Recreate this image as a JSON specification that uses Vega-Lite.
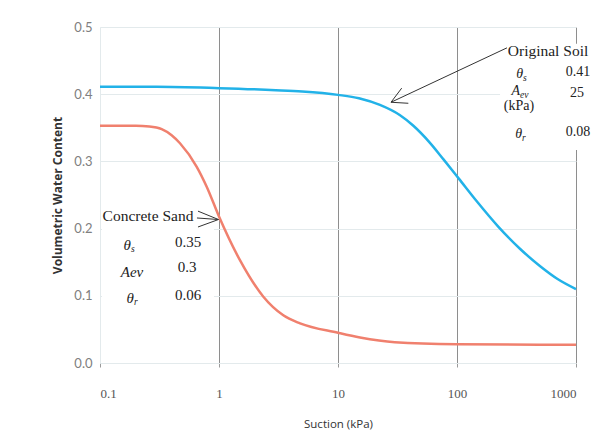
{
  "$schema": "https://vega.github.io/schema/vega-lite/v6.json",
  "width": 476,
  "height": 336,
  "autosize": {"type": "none"},
  "padding": {"left": 100, "top": 27, "right": 32, "bottom": 84},
  "background": "white",
  "config": {"view": {"stroke": null}},
  "datasets": {
    "curves": [
      {"soil": "Original Soil", "x": 0.1, "y": 0.411},
      {"soil": "Original Soil", "x": 0.3, "y": 0.411},
      {"soil": "Original Soil", "x": 1, "y": 0.409},
      {"soil": "Original Soil", "x": 3, "y": 0.406},
      {"soil": "Original Soil", "x": 5, "y": 0.404},
      {"soil": "Original Soil", "x": 10, "y": 0.399},
      {"soil": "Original Soil", "x": 15, "y": 0.394},
      {"soil": "Original Soil", "x": 22.5, "y": 0.384},
      {"soil": "Original Soil", "x": 33, "y": 0.369},
      {"soil": "Original Soil", "x": 43, "y": 0.353},
      {"soil": "Original Soil", "x": 59, "y": 0.328},
      {"soil": "Original Soil", "x": 77, "y": 0.303},
      {"soil": "Original Soil", "x": 104, "y": 0.274},
      {"soil": "Original Soil", "x": 146, "y": 0.241},
      {"soil": "Original Soil", "x": 222, "y": 0.203},
      {"soil": "Original Soil", "x": 338, "y": 0.17},
      {"soil": "Original Soil", "x": 500, "y": 0.144},
      {"soil": "Original Soil", "x": 700, "y": 0.125},
      {"soil": "Original Soil", "x": 1000, "y": 0.11},
      {"soil": "Concrete Sand", "x": 0.1, "y": 0.353},
      {"soil": "Concrete Sand", "x": 0.2, "y": 0.353},
      {"soil": "Concrete Sand", "x": 0.26, "y": 0.352},
      {"soil": "Concrete Sand", "x": 0.33, "y": 0.348},
      {"soil": "Concrete Sand", "x": 0.4, "y": 0.339},
      {"soil": "Concrete Sand", "x": 0.47, "y": 0.327},
      {"soil": "Concrete Sand", "x": 0.65, "y": 0.292},
      {"soil": "Concrete Sand", "x": 0.79, "y": 0.262},
      {"soil": "Concrete Sand", "x": 1.0, "y": 0.218},
      {"soil": "Concrete Sand", "x": 1.5, "y": 0.153},
      {"soil": "Concrete Sand", "x": 2.35, "y": 0.099},
      {"soil": "Concrete Sand", "x": 3.47, "y": 0.071},
      {"soil": "Concrete Sand", "x": 4.8, "y": 0.059},
      {"soil": "Concrete Sand", "x": 10, "y": 0.045},
      {"soil": "Concrete Sand", "x": 15.3, "y": 0.038},
      {"soil": "Concrete Sand", "x": 30, "y": 0.031},
      {"soil": "Concrete Sand", "x": 100, "y": 0.028},
      {"soil": "Concrete Sand", "x": 1000, "y": 0.027}
    ],
    "boxes": [
      {"x": 230, "x2": 1592, "y": 0.317, "y2": 0.475},
      {"x": 0.104, "x2": 0.908, "y": 0.086, "y2": 0.235}
    ],
    "arrows": [
      {"x": 263, "y": 0.469, "x2": 27.9, "y2": 0.388},
      {"x": 27.9, "y": 0.388, "x2": 34.3, "y2": 0.409},
      {"x": 27.9, "y": 0.388, "x2": 39.0, "y2": 0.3865},
      {"x": 0.653, "y": 0.2158, "x2": 0.99, "y2": 0.2135},
      {"x": 0.99, "y": 0.2135, "x2": 0.666, "y2": 0.226},
      {"x": 0.99, "y": 0.2135, "x2": 0.666, "y2": 0.2024}
    ],
    "names": [
      {"label": "Original Soil", "x": 582, "y": 0.464},
      {"label": "Concrete Sand", "x": 0.253, "y": 0.219}
    ],
    "values": [
      {"group": "Original Soil", "label": "0.41", "x": 1040, "y": 0.433},
      {"group": "Original Soil", "label": "25", "x": 1019, "y": 0.402},
      {"group": "Original Soil", "label": "(kPa)", "x": 332, "y": 0.382},
      {"group": "Original Soil", "label": "0.08", "x": 1040, "y": 0.344},
      {"group": "Concrete Sand", "label": "0.35", "x": 0.549, "y": 0.18},
      {"group": "Concrete Sand", "label": "0.3", "x": 0.539, "y": 0.143},
      {"group": "Concrete Sand", "label": "0.06", "x": 0.549, "y": 0.101}
    ],
    "symbols": [
      {"group": "Original Soil", "sym": "θ", "sub": "s", "x": 359, "y": 0.43},
      {"group": "Original Soil", "sym": "A", "sub": "ev", "x": 338, "y": 0.405},
      {"group": "Original Soil", "sym": "θ", "sub": "r", "x": 352, "y": 0.341},
      {"group": "Concrete Sand", "sym": "θ", "sub": "s", "x": 0.182, "y": 0.176},
      {"group": "Concrete Sand", "sym": "Aev", "sub": "", "x": 0.231, "y": 0.135},
      {"group": "Concrete Sand", "sym": "θ", "sub": "r", "x": 0.193, "y": 0.097}
    ]
  },
  "encoding": {
    "x": {
      "field": "x",
      "type": "quantitative",
      "scale": {"type": "log", "domain": [0.1, 1000], "nice": false},
      "axis": {
        "title": "Suction (kPa)",
        "values": [0.1, 1, 10, 100, 1000],
        "format": "~g",
        "grid": true,
        "gridColor": {"condition": {"test": "datum.value < 0.5", "value": "#e3eaec"}, "value": "#8e8e8e"},
        "gridWidth": 1,
        "domainColor": "#e3eaec",
        "tickColor": "#9a9a9a",
        "tickSize": 4,
        "labelFont": "Liberation Serif",
        "labelFontSize": 13,
        "labelColor": "#555555",
        "labelPadding": 20,
        "titleFont": "Open Sans",
        "titleFontSize": 11.5,
        "titleFontWeight": "normal",
        "titleColor": "#333333",
        "titlePadding": 18
      }
    },
    "y": {
      "field": "y",
      "type": "quantitative",
      "scale": {"domain": [0, 0.5], "nice": false, "zero": false},
      "axis": {
        "title": "Volumetric Water Content",
        "values": [0, 0.1, 0.2, 0.3, 0.4, 0.5],
        "format": ".1f",
        "grid": true,
        "gridColor": "#e3eaec",
        "domainColor": "#e3eaec",
        "ticks": false,
        "labelFont": "Lato",
        "labelFontSize": 13,
        "labelColor": "#808080",
        "labelPadding": 8,
        "titleFont": "Open Sans",
        "titleFontSize": 12,
        "titleFontWeight": "bold",
        "titleColor": "#333333",
        "titlePadding": 9
      }
    }
  },
  "layer": [
    {
      "data": {"name": "boxes"},
      "mark": {"type": "rect", "fill": "white", "clip": false},
      "encoding": {"x2": {"field": "x2"}, "y2": {"field": "y2"}}
    },
    {
      "data": {"name": "curves"},
      "mark": {"type": "line", "strokeWidth": 2.5, "interpolate": "monotone"},
      "encoding": {
        "color": {
          "field": "soil",
          "type": "nominal",
          "scale": {"domain": ["Original Soil", "Concrete Sand"], "range": ["#22b2e8", "#f0806e"]},
          "legend": null
        }
      }
    },
    {
      "data": {"name": "arrows"},
      "mark": {"type": "rule", "color": "#333333", "strokeWidth": 1, "clip": false},
      "encoding": {"x2": {"field": "x2"}, "y2": {"field": "y2"}}
    },
    {
      "data": {"name": "names"},
      "mark": {"type": "text", "font": "Liberation Serif", "fontSize": 15.5, "color": "#222222", "align": "center", "baseline": "middle"},
      "encoding": {"text": {"field": "label"}}
    },
    {
      "data": {"name": "values"},
      "mark": {"type": "text", "font": "Liberation Serif", "color": "#222222", "align": "center", "baseline": "middle"},
      "encoding": {
        "text": {"field": "label"},
        "size": {"field": "group", "type": "nominal", "scale": {"domain": ["Original Soil", "Concrete Sand"], "range": [14, 15]}, "legend": null}
      }
    },
    {
      "data": {"name": "symbols"},
      "mark": {"type": "text", "font": "Liberation Serif", "fontStyle": "italic", "color": "#222222", "align": "right", "baseline": "middle"},
      "encoding": {
        "text": {"field": "sym"},
        "size": {"field": "group", "type": "nominal", "scale": {"domain": ["Original Soil", "Concrete Sand"], "range": [15, 15]}, "legend": null}
      }
    },
    {
      "data": {"name": "symbols"},
      "mark": {"type": "text", "font": "Liberation Serif", "fontStyle": "italic", "fontSize": 9.5, "color": "#222222", "align": "left", "baseline": "middle", "dy": 4},
      "encoding": {"text": {"field": "sub"}}
    }
  ]
}
